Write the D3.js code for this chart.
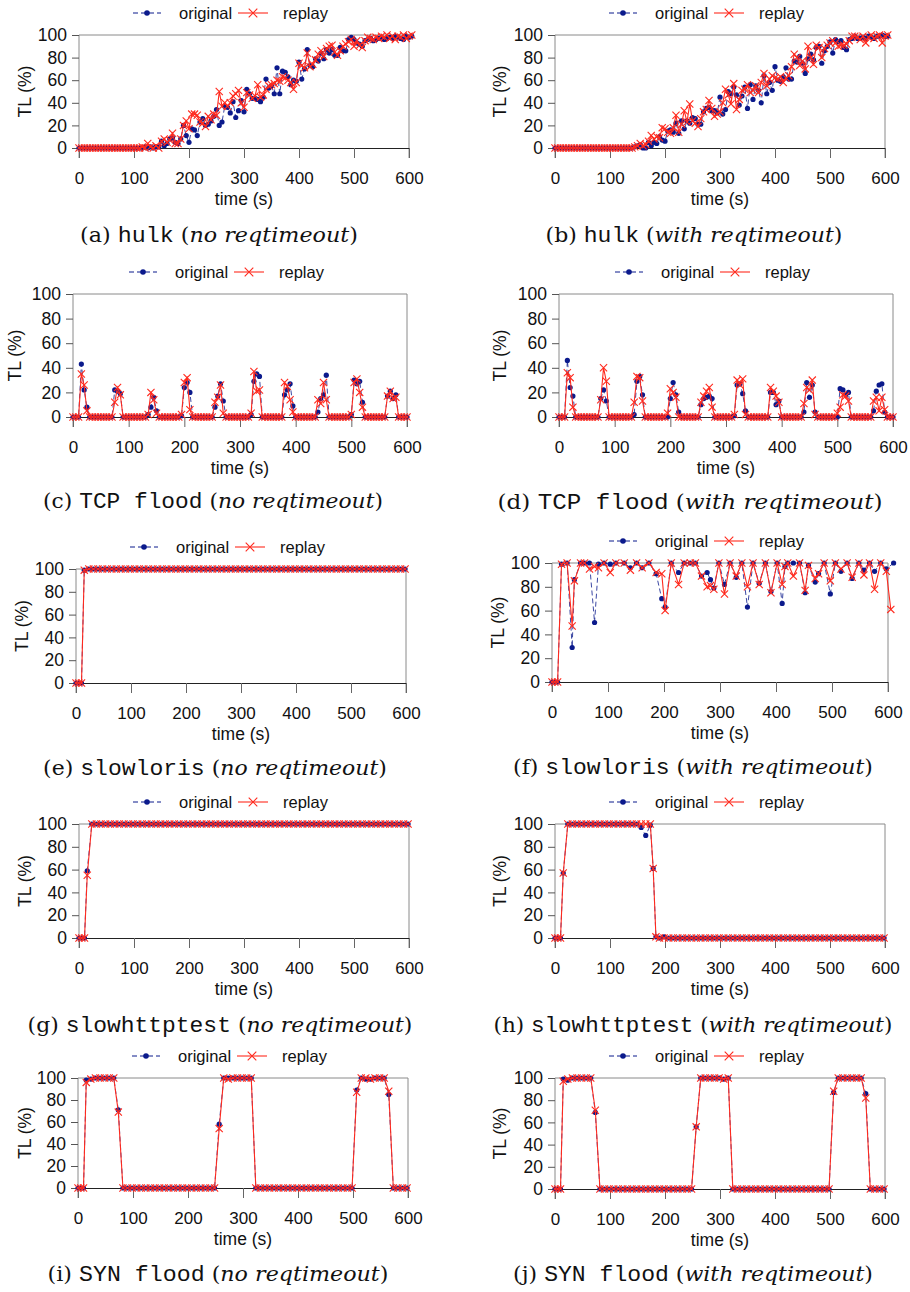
<!DOCTYPE html>
<html>
<head>
<meta charset="utf-8">
<script src="https://cdn.jsdelivr.net/npm/d3@7"></script>
<style>
  body { margin: 0; background: #fff; }
  svg text { font-family: "Liberation Sans", Arial, sans-serif; fill: #111; }
</style>
</head>
<body>
<svg width="910" height="1292"></svg>
<script>
// ---- sample times (s) ----
var timeHulk = [
  0,5,10,15,20,25,30,35,40,45, 50,55,60,65,70,75,80,85,90,95,
  100,105,110,115,120,125,130,135,140,145, 150,155,160,165,170,175,180,185,190,195,
  200,205,210,215,220,225,230,235,240,245, 250,255,260,265,270,275,280,285,290,295,
  300,305,310,315,320,325,330,335,340,345, 350,355,360,365,370,375,380,385,390,395,
  400,405,410,415,420,425,430,435,440,445, 450,455,460,465,470,475,480,485,490,495,
  500,505,510,515,520,525,530,535,540,545, 550,555,560,565,570,575,580,585,590,595,
  600,605];
var timeTcp = timeHulk.slice(0, 121);
var timeSlow = [0,5,10,
  15,23.3,31.7,40,48.3,56.7,65,73.3,81.7,90,
  98.3,106.7,115,123.3,131.7,140,148.3,156.7,165,173.3,
  181.7,190,198.3,206.7,215,223.3,231.7,240,248.3,256.7,
  265,273.3,281.7,290,298.3,306.7,315,323.3,331.7,340,
  348.3,356.7,365,373.3,381.7,390,398.3,406.7,415,423.3,
  431.7,440,448.3,456.7,465,473.3,481.7,490,498.3,506.7,
  515,523.3,531.7,540,548.3,556.7,565,573.3,581.7,590,
  598.3];
var timeHttpReq = [0,5,10,
  15,23.3,31.7,40,48.3,56.7,65,73.3,81.7,90,
  98.3,106.7,115,123.3,131.7,140,148.3,156.7,165,173.3,
  178.5,183.5,190,198.3,206.7,215,223.3,231.7,240,248.3,
  256.7,265,273.3,281.7,290,298.3,306.7,315,323.3,331.7,
  340,348.3,356.7,365,373.3,381.7,390,398.3,406.7,415,
  423.3,431.7,440,448.3,456.7,465,473.3,481.7,490,498.3,
  506.7,515,523.3,531.7,540,548.3,556.7,565,573.3,581.7,
  590,598.3];
var timeLorisReq = [0,5,10,17,27,36,40,51,58,67,76,83,93,104,114,129,140,151,161,173,
  186,196,202,213,226,236,247,256,267,277,283,289,298,308,318,329,339,349,359,370,
  381,391,402,411,416,421,431,442,452,458,470,476,486,497,506,516,527,536,548,557,
  567,576,587,597,605,610];

// ---- TL (%) values ----
var hulkNoOrig = [
  0,0,0,0,0,0,0,0,0,0, 0,0,0,0,0,0,0,0,0,0,
  0,0,0,0,1,0,1,0,1,1, 6,2,4,8,9,5,4,8,20,11,
  5,17,16,11,23,26,20,21,24,28, 34,20,23,37,36,31,41,27,33,42,
  32,52,48,44,44,43,41,45,61,53, 55,48,71,48,68,67,63,56,60,59,
  76,61,70,87,73,72,79,77,84,79, 87,84,87,82,82,89,86,86,96,98,
  96,93,92,90,95,96,97,95,96,97, 98,96,97,98,97,99,98,97,96,99,
  98,99];
var hulkNoReplay = [
  0,0,0,0,0,0,0,0,0,0, 0,0,0,0,0,0,0,0,0,0,
  0,0,0,1,0,4,1,0,2,0, 6,8,5,7,13,4,4,8,20,24,
  17,30,30,29,23,22,19,28,25,30, 29,50,37,40,37,40,46,48,51,40,
  36,49,47,44,46,56,45,47,52,55, 56,57,60,59,63,62,60,58,52,58,
  75,73,71,84,72,74,78,83,86,81, 88,90,91,85,82,86,90,92,94,96,
  90,95,91,89,95,98,97,96,98,97, 99,98,100,97,99,96,99,98,100,97,
  99,100];
var hulkReqOrig = [
  0,0,0,0,0,0,0,0,0,0, 0,0,0,0,0,0,0,0,0,0,
  0,0,0,0,0,0,0,0,0,1, 2,3,0,0,5,2,5,4,10,7,
  6,15,16,14,22,13,24,17,24,22, 27,26,21,21,32,35,36,33,33,31,
  45,30,34,50,48,54,47,38,46,54, 35,56,43,55,51,40,64,48,58,51,
  72,60,59,63,71,61,61,77,76,81, 75,66,79,83,78,89,90,75,86,90,
  94,84,96,94,95,89,87,96,97,99, 97,97,98,97,99,98,97,99,99,100,
  99,99];
var hulkReqReplay = [
  0,0,0,0,0,0,0,0,0,0, 0,0,0,0,0,0,0,0,0,0,
  0,0,0,0,0,0,0,0,0,1, 2,4,2,3,6,11,8,10,9,18,
  17,14,13,18,29,14,21,33,23,39, 24,22,19,26,32,34,42,35,28,30,
  32,40,52,47,39,57,34,43,51,52, 56,49,51,55,49,58,66,55,61,64,
  62,61,63,58,62,64,72,83,80,73, 77,70,90,80,74,91,89,80,88,91,
  93,95,93,90,91,91,92,95,99,99, 98,96,99,93,98,100,97,99,100,93,
  99,100];

var tcpNoOrig = [
  0,0,0,43,22,8,0,0,0,0, 0,0,0,0,0,22,21,19,0,0,
  0,0,0,0,0,0,0,2,8,16, 5,0,0,0,0,0,0,0,0,1,
  24,28,20,0,0,0,0,0,0,0, 0,8,17,27,13,0,0,0,0,0,
  0,0,0,0,2,29,35,33,0,0, 0,0,0,0,0,0,18,22,27,9,
  0,0,0,0,0,0,0,0,4,15, 18,34,0,0,0,0,0,0,0,0,
  2,30,27,29,12,0,0,0,0,0, 0,0,0,17,21,15,18,0,0,0,
  0];
var tcpNoReplay = [
  0,0,0,35,26,5,0,0,0,0, 0,0,0,0,0,12,24,18,0,0,
  0,0,0,0,0,0,0,2,20,14, 3,0,0,0,0,0,0,0,0,2,
  28,32,6,0,0,0,0,0,0,0, 0,12,16,26,3,0,0,0,0,0,
  0,0,0,0,3,37,21,22,0,0, 0,0,0,0,0,0,28,25,14,4,
  0,0,0,0,0,0,0,0,14,11, 28,14,0,0,0,0,0,0,0,0,
  2,28,31,20,8,0,0,0,0,0, 0,0,0,17,21,15,16,0,0,0,
  0];
var tcpReqOrig = [
  0,0,0,46,24,17,0,0,0,0, 0,0,0,0,0,15,22,13,0,0,
  0,0,0,0,0,0,0,2,29,33, 18,0,0,0,0,0,0,0,0,0,
  15,28,18,4,0,0,0,0,0,0, 0,10,15,16,17,15,0,0,0,0,
  0,0,0,1,26,27,19,5,0,0, 0,0,0,0,0,0,20,20,10,13,
  0,0,0,0,0,0,0,0,4,28, 16,26,4,0,0,0,0,0,0,0,
  0,23,22,18,20,0,0,0,0,0, 0,0,0,5,21,26,27,4,0,0,
  0];
var tcpReqReplay = [
  0,0,0,36,32,8,0,0,0,0, 0,0,0,0,0,14,40,29,0,0,
  0,0,0,0,0,0,0,12,33,32, 13,0,0,0,0,0,0,0,0,3,
  23,20,16,0,0,0,0,0,0,0, 0,12,17,21,24,8,0,0,0,0,
  0,0,0,2,30,26,31,2,0,0, 0,0,0,0,0,0,24,21,17,12,
  0,0,0,0,0,0,0,0,11,24, 22,30,2,0,0,0,0,0,0,0,
  3,8,18,17,13,0,0,0,0,0, 0,0,0,13,16,5,16,6,0,0,
  0];

var lorisNoOrig = [0,0,0,
  99,100,100,100,100,100,100,100,100,100,
  100,100,100,100,100,100,100,100,100,100,
  100,100,100,100,100,100,100,100,100,100,
  100,100,100,100,100,100,100,100,100,100,
  100,100,100,100,100,100,100,100,100,100,
  100,100,100,100,100,100,100,100,100,100,
  100,100,100,100,100,100,100,100,100,100,
  100];
var lorisNoReplay = [0,0,0,
  99,100,100,100,100,100,100,100,100,100,
  100,100,100,100,100,100,100,100,100,100,
  100,100,100,100,100,100,100,100,100,100,
  100,100,100,100,100,100,100,100,100,100,
  100,100,100,100,100,100,100,100,100,100,
  100,100,100,100,100,100,100,100,100,100,
  100,100,100,100,100,100,100,100,100,100,
  100];
var lorisReqOrig = [0,0,0,99,100,29,86,100,100,100,50,99,100,99,100,100,96,100,96,100,
  91,70,63,100,92,100,100,100,89,92,86,79,100,82,100,88,100,63,100,83,
  100,76,100,66,97,100,100,100,75,98,84,91,100,74,100,93,100,87,100,94,
  100,93,100,95,null,100];
var lorisReqReplay = [0,0,0,99,100,47,85,100,100,95,97,96,100,92,100,100,94,100,96,100,
  92,91,60,100,82,100,100,100,89,80,81,78,100,74,100,89,100,80,100,82,
  100,75,100,82,97,100,89,100,77,98,87,91,100,85,100,95,100,88,100,90,
  100,78,100,93,61,null];

var httpNoOrig = [0,0,0,
  59,100,100,100,100,100,100,100,100,100,
  100,100,100,100,100,100,100,100,100,100,
  100,100,100,100,100,100,100,100,100,100,
  100,100,100,100,100,100,100,100,100,100,
  100,100,100,100,100,100,100,100,100,100,
  100,100,100,100,100,100,100,100,100,100,
  100,100,100,100,100,100,100,100,100,100,
  100];
var httpNoReplay = [0,0,0,
  55,100,100,100,100,100,100,100,100,100,
  100,100,100,100,100,100,100,100,100,100,
  100,100,100,100,100,100,100,100,100,100,
  100,100,100,100,100,100,100,100,100,100,
  100,100,100,100,100,100,100,100,100,100,
  100,100,100,100,100,100,100,100,100,100,
  100,100,100,100,100,100,100,100,100,100,
  100];
var httpReqOrig = [0,0,0,
  57,100,100,100,100,100,100,100,100,100,
  100,100,100,100,100,100,100,97,90,99,
  61,1,0,1,0,0,0,0,0,0,
  0,0,0,0,0,0,0,0,0,0,
  0,0,0,0,0,0,0,0,0,0,
  0,0,0,0,0,0,0,0,0,0,
  0,0,0,0,0,0,0,0,0,0,
  0,0];
var httpReqReplay = [0,0,0,
  57,100,100,100,100,100,100,100,100,100,
  100,100,100,100,100,100,100,100,100,100,
  61,1,0,0,0,0,0,0,0,0,
  0,0,0,0,0,0,0,0,0,0,
  0,0,0,0,0,0,0,0,0,0,
  0,0,0,0,0,0,0,0,0,0,
  0,0,0,0,0,0,0,0,0,0,
  0,0];

var synNoOrig = [0,0,0,
  98,99,100,100,100,100,100,71,0,0,
  0,0,0,0,0,0,0,0,0,0,
  0,0,0,0,0,0,0,0,0,58,
  100,100,100,100,100,100,100,0,0,0,
  0,0,0,0,0,0,0,0,0,0,
  0,0,0,0,0,0,0,0,0,89,
  100,99,99,100,100,100,85,0,0,0,
  0];
var synNoReplay = [0,0,0,
  96,99,100,100,100,100,100,69,0,0,
  0,0,0,0,0,0,0,0,0,0,
  0,0,0,0,0,0,0,0,0,54,
  100,99,100,100,100,100,100,0,0,0,
  0,0,0,0,0,0,0,0,0,0,
  0,0,0,0,0,0,0,0,0,87,
  100,100,99,100,100,100,88,0,0,0,
  0];
var synReqOrig = [0,0,0,
  99,98,100,100,100,100,100,69,0,0,
  0,0,0,0,0,0,0,0,0,0,
  0,0,0,0,0,0,0,0,0,56,
  100,100,100,100,100,99,100,0,0,0,
  0,0,0,0,0,0,0,0,0,0,
  0,0,0,0,0,0,0,0,0,87,
  100,100,100,100,100,100,86,0,0,0,
  0];
var synReqReplay = [0,0,0,
  97,99,100,100,100,100,100,71,0,0,
  0,0,0,0,0,0,0,0,0,0,
  0,0,0,0,0,0,0,0,0,56,
  100,100,100,100,100,99,100,0,0,0,
  0,0,0,0,0,0,0,0,0,0,
  0,0,0,0,0,0,0,0,0,88,
  100,100,100,100,100,100,82,0,0,0,
  0];

// ---- labels ----
var letters = ["a","b","c","d","e","f","g","h","i","j"];
var tools = ["hulk","hulk","TCP flood","TCP flood","slowloris","slowloris",
             "slowhttptest","slowhttptest","SYN flood","SYN flood"];
var modes = ["no reqtimeout","with reqtimeout"];
var xTicks = [0, 100, 200, 300, 400, 500, 600];
var yTicks = [0, 20, 40, 60, 80, 100];

var panels = [
  {t: timeHulk, orig: hulkNoOrig, replay: hulkNoReplay},
  {t: timeHulk, orig: hulkReqOrig, replay: hulkReqReplay},
  {t: timeTcp, orig: tcpNoOrig, replay: tcpNoReplay},
  {t: timeTcp, orig: tcpReqOrig, replay: tcpReqReplay},
  {t: timeSlow, orig: lorisNoOrig, replay: lorisNoReplay},
  {t: timeLorisReq, orig: lorisReqOrig, replay: lorisReqReplay},
  {t: timeSlow, orig: httpNoOrig, replay: httpNoReplay},
  {t: timeHttpReq, orig: httpReqOrig, replay: httpReqReplay},
  {t: timeSlow, orig: synNoOrig, replay: synNoReplay},
  {t: timeSlow, orig: synReqOrig, replay: synReqReplay}
];

// where each sub-figure sits on the page
var layout = [
  {left: 79,  right: 409, top: 35,   zero: 148,  titleDx: 54, capX: 219, capY: 242,  capW: 278},
  {left: 555, right: 885, top: 35,   zero: 148,  titleDx: 55, capX: 694, capY: 242,  capW: 297},
  {left: 73,  right: 407, top: 294,  zero: 417,  titleDx: 58, capX: 213, capY: 508,  capW: 340},
  {left: 559, right: 893, top: 294,  zero: 417,  titleDx: 59, capX: 690, capY: 509,  capW: 385},
  {left: 76,  right: 406, top: 569,  zero: 683,  titleDx: 54, capX: 215, capY: 775,  capW: 344},
  {left: 552, right: 888, top: 563,  zero: 682,  titleDx: 54, capX: 693, capY: 774,  capW: 360},
  {left: 79,  right: 409, top: 824,  zero: 938,  titleDx: 54, capX: 220, capY: 1032, capW: 385},
  {left: 555, right: 885, top: 824,  zero: 938,  titleDx: 55, capX: 693, capY: 1032, capW: 399},
  {left: 78,  right: 408, top: 1078, zero: 1188, titleDx: 53, capX: 218, capY: 1281, capW: 341},
  {left: 555, right: 885, top: 1078, zero: 1189, titleDx: 55, capX: 693, capY: 1281, capW: 360}
];

var origColor = "#0b1a8c", replayColor = "#ff2a1e", frameColor = "#8a8a8a";
var svg = d3.select("svg");

function crossPath(s) {
  return "M" + (-s) + "," + (-s) + "L" + s + "," + s + "M" + (-s) + "," + s + "L" + s + "," + (-s);
}

panels.forEach(function(p, i) {
  var L = layout[i];
  var bottom = L.zero + 10;
  var cx = (L.left + L.right) / 2;
  var x = d3.scaleLinear().domain([0, 600]).range([L.left, L.right]);
  var y = d3.scaleLinear().domain([0, 100]).range([L.zero, L.top]);
  var g = svg.append("g");

  // frame (top, left, right)
  g.append("path")
    .attr("d", "M" + L.left + "," + bottom + "V" + L.top + "H" + L.right + "V" + bottom)
    .attr("fill", "none").attr("stroke", frameColor).attr("stroke-width", 1);

  // y axis
  var ya = g.append("g").attr("transform", "translate(" + L.left + ",0)")
    .call(d3.axisLeft(y).tickValues(yTicks).tickSize(7).tickPadding(5).tickSizeOuter(0));
  ya.select(".domain").remove();
  ya.selectAll(".tick line").attr("stroke", "#555");
  ya.selectAll("text").style("font-size", "17.5px");

  // x axis along TL = 0
  var xa = g.append("g").attr("transform", "translate(0," + L.zero + ")")
    .call(d3.axisBottom(x).tickValues(xTicks).tickSize(10).tickPadding(14).tickSizeOuter(0));
  xa.select(".domain").attr("stroke", "#222");
  xa.selectAll(".tick line").attr("stroke", "#666");
  xa.selectAll("text").style("font-size", "17px");

  // axis titles
  g.append("text").attr("x", cx).attr("y", L.zero + 57)
    .attr("text-anchor", "middle").style("font-size", "17.5px").text("time (s)");
  g.append("text")
    .attr("transform", "translate(" + (L.left - L.titleDx) + "," + ((L.top + L.zero) / 2) + ") rotate(-90)")
    .attr("text-anchor", "middle").attr("dominant-baseline", "central")
    .style("font-size", "17.5px").text("TL (%)");

  // series
  var ptsO = p.t.map(function(t, j) { return {t: t, v: p.orig[j]}; })
    .filter(function(d) { return d.v != null; });
  var ptsR = p.t.map(function(t, j) { return {t: t, v: p.replay[j]}; })
    .filter(function(d) { return d.v != null; });
  var line = d3.line().x(function(d) { return x(d.t); }).y(function(d) { return y(d.v); });

  g.append("path").datum(ptsO).attr("d", line)
    .attr("fill", "none").attr("stroke", origColor).attr("stroke-width", 1)
    .attr("stroke-dasharray", "5,3").attr("stroke-opacity", 0.8);
  g.selectAll(".dot").data(ptsO).enter().append("circle")
    .attr("cx", function(d) { return x(d.t); }).attr("cy", function(d) { return y(d.v); })
    .attr("r", 2.6).attr("fill", origColor);

  g.append("path").datum(ptsR).attr("d", line)
    .attr("fill", "none").attr("stroke", replayColor).attr("stroke-width", 1.1);
  g.selectAll(".cross").data(ptsR).enter().append("path")
    .attr("transform", function(d) { return "translate(" + x(d.t) + "," + y(d.v) + ")"; })
    .attr("d", crossPath(3.6)).attr("stroke", replayColor).attr("stroke-width", 1.1).attr("fill", "none");

  // legend
  var ly = L.top - 22;
  g.append("line").attr("x1", cx - 111).attr("x2", cx - 83).attr("y1", ly).attr("y2", ly)
    .attr("stroke", origColor).attr("stroke-dasharray", "5,3").attr("stroke-width", 1);
  g.append("circle").attr("cx", cx - 97).attr("cy", ly).attr("r", 2.8).attr("fill", origColor);
  g.append("text").attr("x", cx - 65).attr("y", ly).attr("dominant-baseline", "central")
    .style("font-size", "16.5px").text("original");
  g.append("line").attr("x1", cx - 6).attr("x2", cx + 24).attr("y1", ly).attr("y2", ly)
    .attr("stroke", replayColor).attr("stroke-width", 1.1);
  g.append("path").attr("transform", "translate(" + (cx + 9) + "," + ly + ")")
    .attr("d", crossPath(4.3)).attr("stroke", replayColor).attr("stroke-width", 1.1).attr("fill", "none");
  g.append("text").attr("x", cx + 39).attr("y", ly).attr("dominant-baseline", "central")
    .style("font-size", "16.5px").text("replay");

  // caption
  var cap = g.append("text").attr("x", L.capX).attr("y", L.capY)
    .attr("text-anchor", "middle").style("font-size", "21px");
  var serif = "'DejaVu Serif', 'Liberation Serif', serif";
  cap.append("tspan").style("font-family", serif).text("(" + letters[i] + ") ");
  cap.append("tspan").style("font-family", "'Liberation Mono', monospace").style("font-size", "22px").text(tools[i]);
  cap.append("tspan").style("font-family", serif).text(" (");
  cap.append("tspan").style("font-family", serif).style("font-style", "italic").text(modes[i % 2]);
  cap.append("tspan").style("font-family", serif).text(")");
  var w = cap.node().getBBox().width;
  var sx = L.capW / w;
  cap.attr("transform", "translate(" + L.capX + ",0) scale(" + sx + ",1) translate(" + (-L.capX) + ",0)");
});
</script>
</body>
</html>
